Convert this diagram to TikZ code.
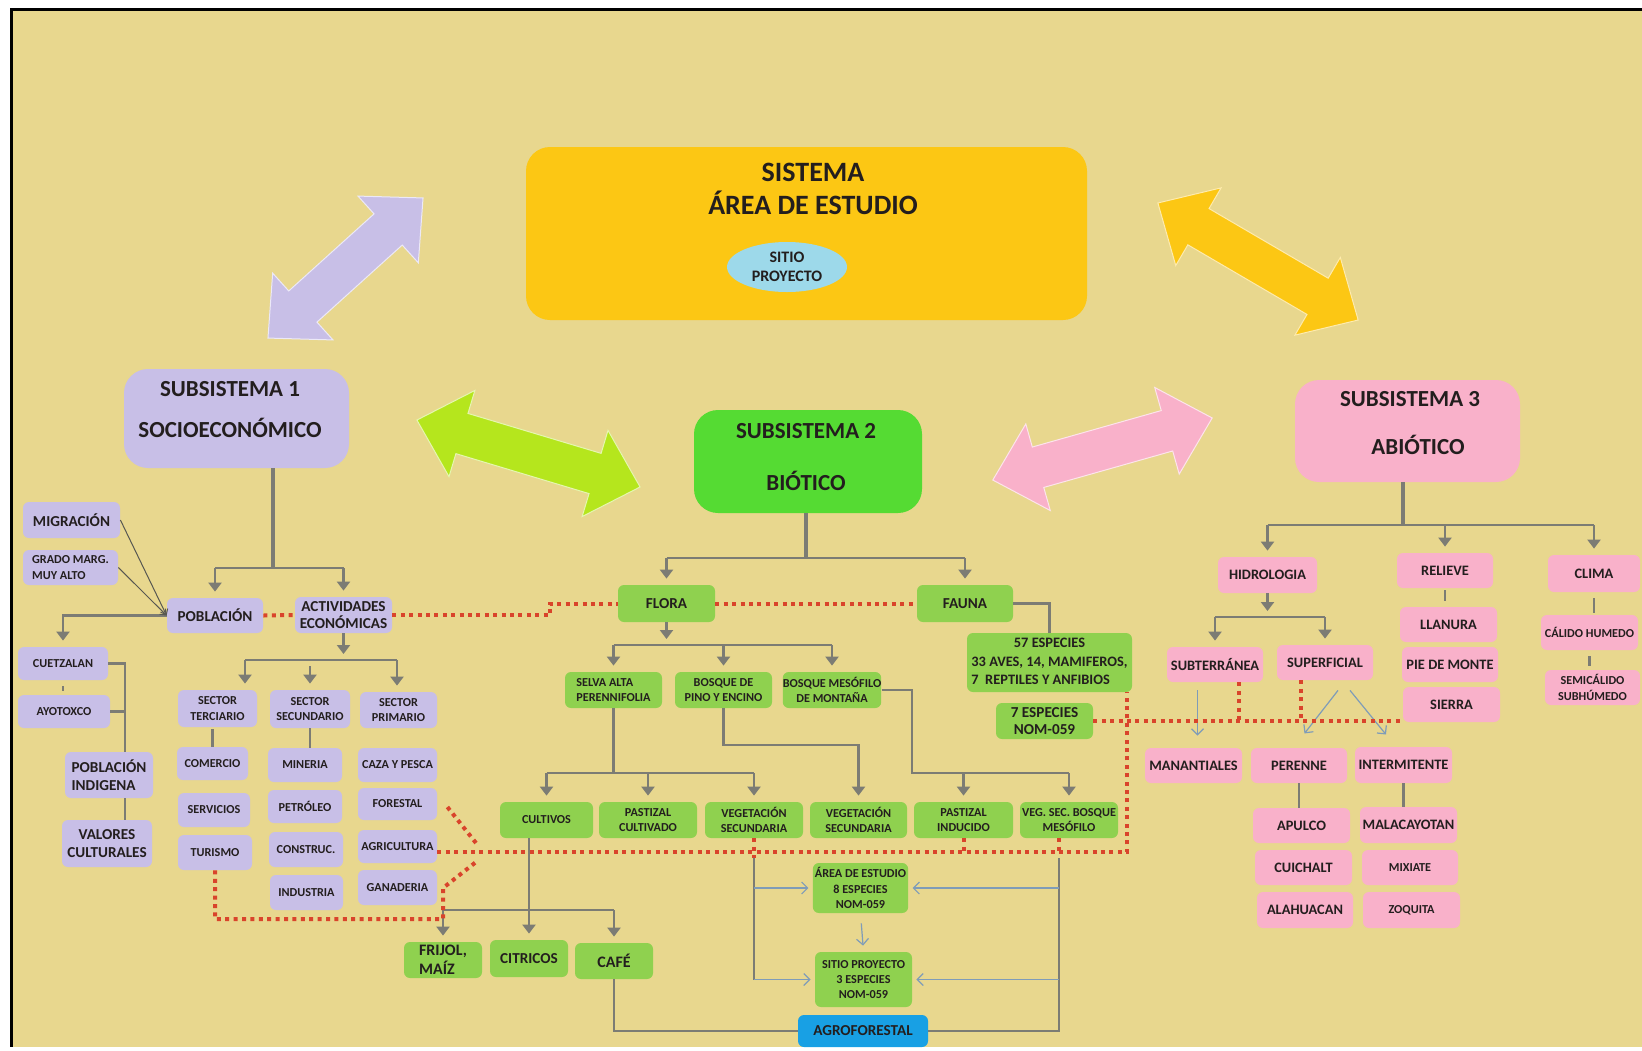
\documentclass[tikz,border=0pt]{standalone}
\usepackage{fontspec}
\setmainfont{Carlito}
\usetikzlibrary{arrows.meta,calc,shapes.geometric}
\definecolor{ink}{HTML}{231E1E}
\definecolor{sand}{HTML}{E8D78E}
\definecolor{lilac}{HTML}{C8BFE7}
\definecolor{rose}{HTML}{F9B1CA}
\definecolor{leaf}{HTML}{8FD14F}
\definecolor{bright}{HTML}{55DB33}
\definecolor{gold}{HTML}{FCC714}
\definecolor{lime}{HTML}{B5E61D}
\definecolor{sky}{HTML}{9DD9EA}
\definecolor{agro}{HTML}{18A0E4}
\definecolor{stem}{HTML}{7C7C74}
\definecolor{steel}{HTML}{7F9CB8}
\definecolor{dotred}{HTML}{D9442B}

% two-headed block arrow: centre, angle, half length, colour
\newcommand{\twoway}[4]{%
  \begin{scope}[shift={#1}, rotate=#2]
    \fill[#4, draw=white!65!#4, line width=0.5pt]
      (-#3,0) -- (-#3+47,45) -- (-#3+47,21) -- (#3-47,21) -- (#3-47,45) -- (#3,0)
      -- (#3-47,-45) -- (#3-47,-21) -- (-#3+47,-21) -- (-#3+47,-45) -- cycle;
  \end{scope}}

\begin{document}
\begin{tikzpicture}[
    x=0.5pt, y=-0.5pt,
    >={Triangle[length=4.5pt,width=6.5pt]},
    line cap=butt, line join=miter,
    every node/.style={text=ink, inner sep=1pt, align=center},
    sz/.style 2 args={minimum width=#1*0.5pt, minimum height=#2*0.5pt},
    cbox/.style={rounded corners=3pt, font=\fontsize{7.6}{8.9}\selectfont\bfseries},
    mbox/.style={rounded corners=3pt, font=\fontsize{7.2}{8.6}\selectfont\bfseries},
    sbox/.style={rounded corners=3pt, font=\fontsize{6.1}{7.6}\selectfont\bfseries},
    bigtxt/.style={font=\fontsize{11.5}{14}\selectfont\bfseries},
    lav/.style={fill=lilac}, grn/.style={fill=leaf}, pnk/.style={fill=rose},
    trunk/.style={draw=stem, line width=2pt},
    branch/.style={draw=stem, line width=1.1pt},
    darr/.style={branch, ->, shorten >=3pt},
    thinarr/.style={draw=stem!70!black, line width=0.5pt, -{Straight Barb[length=2.5pt,width=4pt]}},
    barr/.style={draw=steel, line width=0.6pt, -{Straight Barb[length=3pt,width=6pt]}, shorten >=2pt},
    reddot/.style={draw=dotred, line width=2pt, dash pattern=on 2pt off 2.2pt},
]

% ============================================================
% Sheet
% ============================================================
\useasboundingbox (0,0) rectangle (1642,1050);
\fill[white] (0,0) rectangle (1642,1050);
\fill[sand] (11,9) rectangle (1642,1047);
\draw[black, line width=1.5pt] (1642,9) -- (11,9) -- (11,1047);

% ============================================================
% System and the three subsystems
% ============================================================
\node[fill=gold, rounded corners=12pt, sz={561}{173}] (sys) at (806.5,233.5) {};
\node[font=\fontsize{14}{16.5}\selectfont\bfseries] (systxt) at (813,189) {SISTEMA\\ÁREA DE ESTUDIO};
\node[ellipse, fill=sky, inner sep=0pt, sz={120}{50}, font=\fontsize{8}{9.7}\selectfont\bfseries] (site) at (787,267) {SITIO\\PROYECTO};

\node[lav, rounded corners=12pt, sz={225}{99}] (s1) at (236.5,418.5) {};
\node[bigtxt] (s1txt) at (230,410) {SUBSISTEMA 1\\[6.5pt]SOCIOECONÓMICO};
\node[fill=bright, rounded corners=12pt, sz={228}{103}] (s2) at (808,461.5) {};
\node[bigtxt] (s2txt) at (806,457) {SUBSISTEMA 2\\[12pt]BIÓTICO};
\node[pnk, rounded corners=12pt, sz={225}{102}] (s3) at (1407.5,431) {};
\node[bigtxt] (s3txt) at (1410,423) {SUBSISTEMA 3\\[10pt]\hspace*{8pt}ABIÓTICO};

\twoway{(345.5,268)}{42.1}{104.5}{lilac}
\twoway{(528.5,453.5)}{-16.7}{116.5}{lime}
\twoway{(1258,261.5)}{-30.3}{116}{gold}
\twoway{(1102.5,449)}{15.8}{114}{rose}

% ============================================================
% Subsystem 1 (socioeconomic)
% ============================================================
\node[cbox,lav,sz={97}{36}] (migr) at (71.5,520) {MIGRACIÓN};
\node[sbox,lav,sz={95}{35},align=left] (grado) at (70.5,567.5) {GRADO MARG.\\MUY ALTO};
\node[cbox,lav,sz={96}{35}] (pobl) at (215,615.5) {POBLACIÓN};
\node[cbox,lav,sz={97}{36}] (activ) at (343.5,615) {ACTIVIDADES\\ECONÓMICAS};
\node[sbox,lav,sz={90}{33}] (cuetz) at (63,663.5) {CUETZALAN};
\node[sbox,lav,sz={92}{33}] (ayot) at (64,711.5) {AYOTOXCO};
\node[cbox,lav,sz={88}{46},align=left] (pind) at (109,775) {POBLACIÓN\\INDIGENA};
\node[cbox,lav,sz={90}{47}] (valor) at (107,843.5) {VALORES\\CULTURALES};
\node[sbox,lav,sz={79}{37}] (terc) at (217.5,708.5) {SECTOR\\TERCIARIO};
\node[sbox,lav,sz={80}{38}] (secu) at (310,709) {SECTOR\\SECUNDARIO};
\node[sbox,lav,sz={77}{36}] (prim) at (398.5,710) {SECTOR\\PRIMARIO};
\node[sbox,lav,sz={71}{33}] (comer) at (212.5,763.5) {COMERCIO};
\node[sbox,lav,sz={72}{34}] (serv) at (214,810) {SERVICIOS};
\node[sbox,lav,sz={74}{35}] (turis) at (215,852.5) {TURISMO};
\node[sbox,lav,sz={74}{34}] (miner) at (305,765) {MINERIA};
\node[sbox,lav,sz={74}{33}] (petro) at (305,806.5) {PETRÓLEO};
\node[sbox,lav,sz={74}{35}] (constr) at (306,849.5) {CONSTRUC.};
\node[sbox,lav,sz={73}{35}] (indus) at (306.5,892.5) {INDUSTRIA};
\node[sbox,lav,sz={79}{34}] (caza) at (397.5,765) {CAZA Y PESCA};
\node[sbox,lav,sz={79}{32}] (forest) at (397.5,804) {FORESTAL};
\node[sbox,lav,sz={79}{33}] (agri) at (397.5,846.5) {AGRICULTURA};
\node[sbox,lav,sz={79}{35}] (gana) at (397.5,887.5) {GANADERIA};

\coordinate (j1) at (273,568);
\draw[trunk] (j1 |- s1.south) -- (j1);
\draw[branch] (pobl.north |- j1) -- (activ.north |- j1);
\draw[darr] (pobl.north |- j1) -- (pobl.north);
\draw[darr] (activ.north |- j1) -- (activ.north);
\draw[darr] (pobl.west) -| (cuetz.north);
\draw[thinarr] (migr.east) -- (pobl.west);
\draw[thinarr] (grado.east) -- (pobl.west);
\draw[branch, shorten <=3pt, shorten >=2pt] (cuetz.south) -- (cuetz.south |- ayot.north);
\coordinate (j2) at (125,0);
\draw[branch] (cuetz.east) -- (cuetz.east -| j2) -- (j2 |- pind.north);
\draw[branch] (ayot.east) -- (ayot.east -| j2);
\draw[branch] (pind.south -| j2) -- (valor.north -| j2);

\coordinate (a1) at (245,660);
\coordinate (a2) at (397,660);
\draw[darr] (activ.south) -- (activ.south |- a1);
\draw[branch] (a1) -- (a2);
\draw[darr] (a1) -- (a1 |- terc.north);
\draw[darr, shorten <=3pt] (secu.north |- a1) -- (secu.north);
\draw[darr] (a2) -- (a2 |- prim.north);
\draw[branch, shorten <=1pt] (comer.north |- terc.south) -- (comer.north);
\draw[branch] (secu.south) -- (secu.south |- miner.north);

% ============================================================
% Subsystem 2 (biotic)
% ============================================================
\node[cbox,grn,sz={97}{37}] (flora) at (666.5,603.5) {FLORA};
\node[cbox,grn,sz={96}{37}] (fauna) at (965,603.5) {FAUNA};
\node[grn, rounded corners=3pt, inner sep=0pt, sz={165}{59}, font=\fontsize{7.2}{9.2}\selectfont\bfseries] (esp57) at (1049.5,662.5)
  {\begin{tabular}{@{}l@{}}\multicolumn{1}{@{}c@{}}{57 ESPECIES}\\33 AVES, 14, MAMIFEROS,\\7\ \ REPTILES Y ANFIBIOS\end{tabular}};
\node[cbox,grn,sz={97}{36}] (esp7) at (1044.5,721) {7 ESPECIES\\NOM-059};
\node[sbox,grn,sz={97}{36},align=left] (selva) at (613.5,690) {SELVA ALTA\\PERENNIFOLIA};
\node[sbox,grn,sz={97}{36}] (pino) at (723.5,690) {BOSQUE DE\\PINO Y ENCINO};
\node[sbox,grn,sz={98}{36},inner sep=0pt] (mesof) at (832,690) {BOSQUE MESÓFILO\\DE MONTAÑA};
\node[sbox,grn,sz={93}{36}] (cult) at (546.5,820) {CULTIVOS};
\node[sbox,grn,sz={98}{36}] (pastc) at (648,820) {PASTIZAL\\CULTIVADO};
\node[sbox,grn,sz={98}{36}] (vsec1) at (754,820) {VEGETACIÓN\\SECUNDARIA};
\node[sbox,grn,sz={97}{36}] (vsec2) at (858.5,820) {VEGETACIÓN\\SECUNDARIA};
\node[sbox,grn,sz={99}{36}] (pasti) at (963.5,820) {PASTIZAL\\INDUCIDO};
\node[sbox,grn,sz={98}{36}] (vsbm) at (1069,820) {VEG. SEC. BOSQUE\\MESÓFILO};
\node[cbox,grn,sz={78}{36},align=left,font=\fontsize{8}{9.4}\selectfont\bfseries] (frijol) at (443,960) {FRIJOL,\\MAÍZ};
\node[cbox,grn,sz={78}{37}] (citr) at (529,958.5) {CITRICOS};
\node[cbox,grn,sz={78}{36},font=\fontsize{8}{9.4}\selectfont\bfseries] (cafe) at (614,961) {CAFÉ};
\node[sbox,grn,sz={95}{50}] (area) at (860.5,888) {ÁREA DE ESTUDIO\\8 ESPECIES\\NOM-059};
\node[sbox,grn,sz={97}{55}] (sitio) at (863.5,979.5) {SITIO PROYECTO\\3 ESPECIES\\NOM-059};
\node[cbox,fill=agro,sz={130}{32}] (agro) at (863,1031) {AGROFORESTAL};

\coordinate (j4) at (806,558);
\draw[trunk] (j4 |- s2.south) -- (j4);
\draw[branch] (flora.north |- j4) -- (fauna.north |- j4);
\draw[darr] (flora.north |- j4) -- (flora.north);
\draw[darr] (fauna.north |- j4) -- (fauna.north);
\draw[branch] (fauna.east) -| (esp57.north);

\coordinate (j5) at (0,645);
\draw[darr] (flora.south) -- (flora.south |- j5);
\draw[branch] (selva.north |- j5) -- (mesof.north |- j5);
\draw[darr] (selva.north |- j5) -- (selva.north);
\draw[darr] (pino.north |- j5) -- (pino.north);
\draw[darr] (mesof.north |- j5) -- (mesof.north);

\coordinate (j6) at (0,773);
\draw[branch] (selva.south) -- (selva.south |- j6);
\draw[branch] (cult.north |- j6) -- (vsec1.north |- j6);
\draw[darr] (cult.north |- j6) -- (cult.north);
\draw[darr] (pastc.north |- j6) -- (pastc.north);
\draw[darr] (vsec1.north |- j6) -- (vsec1.north);
\coordinate (j7) at (0,745);
\draw[darr] (pino.south) |- (vsec2.north |- j7) -- (vsec2.north);
\coordinate (j8) at (912,773);
\draw[branch] (mesof.east) -| (j8) -- (vsbm.north |- j8);
\draw[darr] (pasti.north |- j8) -- (pasti.north);
\draw[darr] (vsbm.north |- j8) -- (vsbm.north);

\coordinate (j9) at (0,910);
\draw[branch] (citr.north |- cult.south) -- (citr.north |- j9);
\draw[branch] (frijol.north |- j9) -- (cafe.north |- j9);
\draw[darr] (frijol.north |- j9) -- (frijol.north);
\draw[darr] (citr.north |- j9) -- (citr.north);
\draw[darr] (cafe.north |- j9) -- (cafe.north);
\draw[branch] (cafe.south) |- (agro.west);

\coordinate (j10) at (1059,858);
\path (vsec1.south) ++(0,20) coordinate (j11);
\draw[branch] (agro.east) -| (j10);
\draw[branch] (j11) -- (j11 |- sitio.west);
\draw[barr] (j11 |- area.west) -- (area.west);
\draw[barr] (j11 |- sitio.west) -- (sitio.west);
\draw[barr] (j10 |- area.east) -- (area.east);
\draw[barr] (j10 |- sitio.east) -- (sitio.east);
\draw[barr, shorten <=5pt, shorten >=3pt] (area.south) -- (sitio.north);

% ============================================================
% Subsystem 3 (abiotic)
% ============================================================
\node[mbox,pnk,sz={99}{36}] (hidro) at (1267.5,575) {HIDROLOGIA};
\node[mbox,pnk,sz={96}{35}] (relieve) at (1445,570.5) {RELIEVE};
\node[mbox,pnk,sz={92}{37}] (clima) at (1594,573.5) {CLIMA};
\node[mbox,pnk,sz={96}{35}] (subt) at (1215,664.5) {SUBTERRÁNEA};
\node[mbox,pnk,sz={96}{35}] (superf) at (1325,662.5) {SUPERFICIAL};
\node[mbox,pnk,sz={97}{35}] (llan) at (1448.5,624.5) {LLANURA};
\node[mbox,pnk,sz={96}{35}] (pie) at (1450,664.5) {PIE DE MONTE};
\node[mbox,pnk,sz={97}{35}] (sierra) at (1451.5,704.5) {SIERRA};
\node[sbox,pnk,sz={97}{35}] (calido) at (1589.5,632.5) {CÁLIDO HUMEDO};
\node[sbox,pnk,sz={95}{35}] (semic) at (1592.5,687.5) {SEMICÁLIDO\\SUBHÚMEDO};
\node[mbox,pnk,sz={97}{35}] (manan) at (1193.5,765.5) {MANANTIALES};
\node[mbox,pnk,sz={96}{35}] (peren) at (1299,765.5) {PERENNE};
\node[mbox,pnk,sz={97}{36}] (interm) at (1403.5,765) {INTERMITENTE};
\node[mbox,pnk,sz={97}{35}] (apulco) at (1301.5,825.5) {APULCO};
\node[mbox,pnk,sz={97}{35}] (cuich) at (1303.5,867.5) {CUICHALT};
\node[mbox,pnk,sz={96}{36}] (alah) at (1305,910) {ALAHUACAN};
\node[mbox,pnk,sz={97}{36}] (malac) at (1408.5,825) {MALACAYOTAN};
\node[sbox,pnk,sz={96}{35}] (mixi) at (1410,867.5) {MIXIATE};
\node[sbox,pnk,sz={97}{36}] (zoq) at (1411.5,910) {ZOQUITA};

\coordinate (j12) at (1403,525);
\draw[trunk] (j12 |- s3.south) -- (j12);
\draw[branch] (hidro.north |- j12) -- (clima.north |- j12);
\draw[darr] (hidro.north |- j12) -- (hidro.north);
\draw[darr] (relieve.north |- j12) -- (relieve.north);
\draw[darr] (clima.north |- j12) -- (clima.north);
\coordinate (j13) at (0,617);
\draw[darr] (hidro.south) -- (hidro.south |- j13);
\draw[branch] (subt.north |- j13) -- (superf.north |- j13);
\draw[darr] (subt.north |- j13) -- (subt.north);
\draw[darr] (superf.north |- j13) -- (superf.north);
\draw[branch, shorten <=1pt, shorten >=3pt] (relieve.south) -- (relieve.south |- llan.north);
\draw[branch, shorten <=3pt, shorten >=1pt] (clima.south) -- (clima.south |- calido.north);
\draw[branch, shorten <=3pt, shorten >=2pt] (calido.south) -- (calido.south |- semic.north);
\draw[barr] ($(manan.north |- subt.south)+(4,8)$) -- ($(manan.north)+(4,-8)$);
\draw[barr] ($(superf.south)+(13,10)$) -- ($(peren.north)+(3,-11)$);
\draw[barr] ($(superf.south)+(25,10)$) -- ($(interm.north)+(-15,-9)$);
\draw[branch] (peren.south) -- (peren.south |- apulco.north);
\draw[branch] (interm.south) -- (interm.south |- malac.north);

% ============================================================
% Dotted links between subsystems
% ============================================================
\draw[reddot] (pobl.east) -- (activ.west);
\coordinate (r1) at (550,0);
\draw[reddot] (activ.east) -- (activ.east -| r1) -- (r1 |- flora.west) -- (flora.west);
\draw[reddot] (flora.east) -- (fauna.west);
\coordinate (r2) at (1127,852);
\draw[reddot] (agri.east |- r2) -- (r2) -- (r2 |- esp57.south);
\draw[reddot] (esp7.east) -- (esp7.east -| sierra.west);
\coordinate (r3) at ($(subt.south)!0.5!(subt.south east)$);
\coordinate (r4) at ($(superf.south)!0.5!(superf.south west)$);
\draw[reddot] (r3) -- (r3 |- esp7.east);
\draw[reddot] (r4) -- (r4 |- esp7.east);
\draw[reddot] (vsec1.south) -- (j11);
\draw[reddot] (pasti.south) -- (pasti.south |- r2);
\draw[reddot] (j10 |- vsbm.south) -- (j10 |- r2);
\coordinate (r5) at (443,919);
\coordinate (r6) at (443,888);
\coordinate (r7) at (476,862);
\coordinate (r8) at (476,843);
\draw[reddot] (turis.south) |- (r5) -- (r6) -- (r7);
\draw[reddot] ($(forest.east)+(10,3)$) -- (r8);

\end{tikzpicture}
\end{document}
